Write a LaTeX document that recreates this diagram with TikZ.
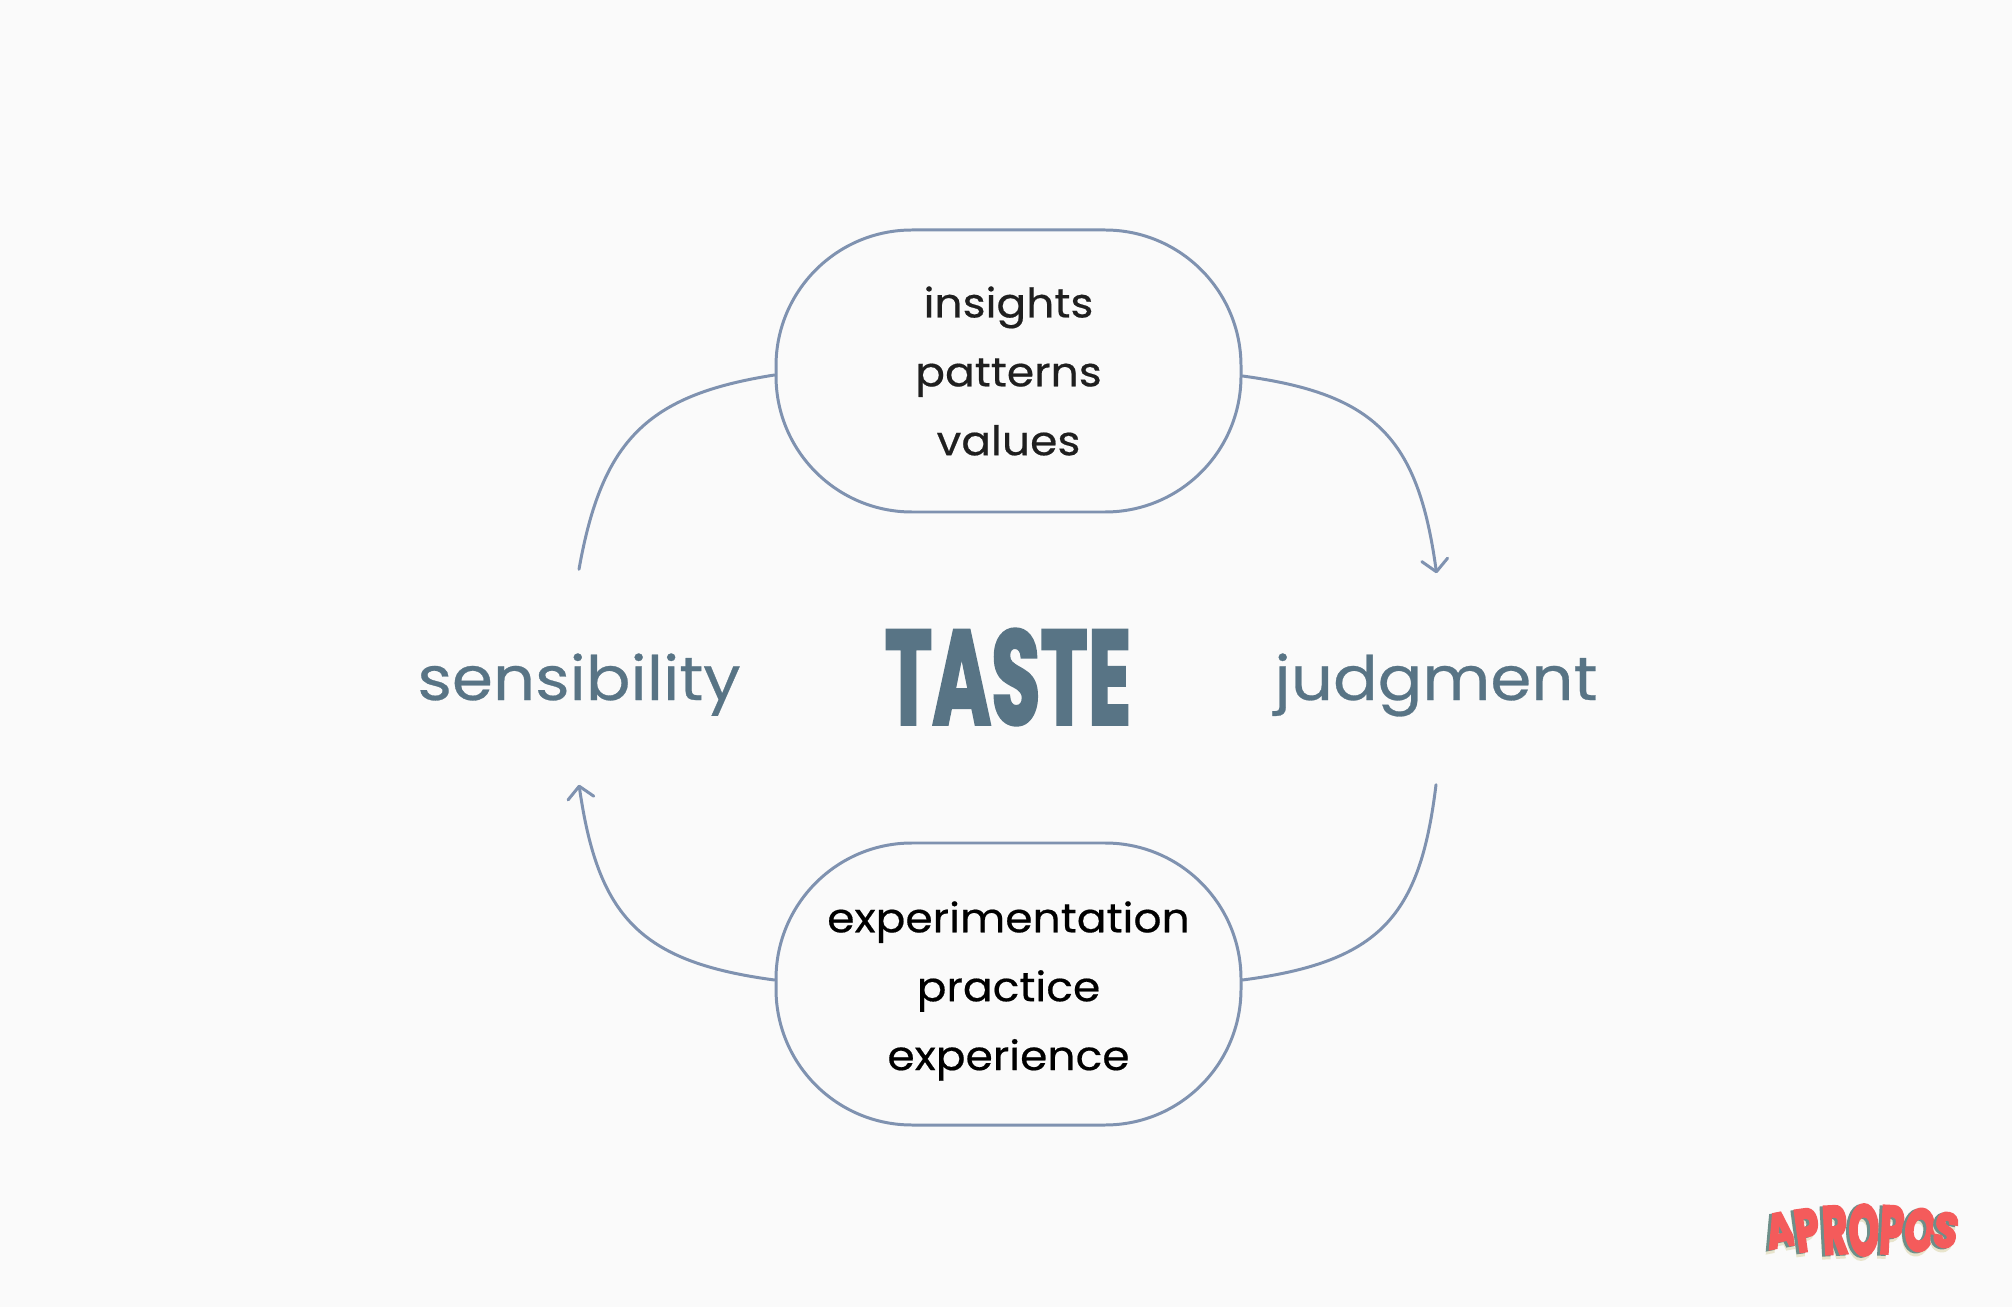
\documentclass[tikz,border=0pt]{standalone}
\usepackage{fontspec}
\setmainfont[FakeStretch=1.08, FakeBold=0.45]{Poppins}
\newfontfamily\tastefont[BoldFeatures={FakeBold=2.5}]{Poppins}
\newfontfamily\logofont[BoldFeatures={FakeBold=5}]{Poppins}
\usetikzlibrary{arrows.meta}
\definecolor{paper}{HTML}{FAFAFA}
\definecolor{wire}{HTML}{7F92B0}
\definecolor{slate}{HTML}{587485}
\definecolor{logored}{HTML}{F45B5B}
\definecolor{logoteal}{HTML}{6D8F8A}
\definecolor{logosand}{HTML}{E8E4CC}
\newcommand{\logoletter}[2]{\logofont\bfseries\fontsize{19}{19}\selectfont\scalebox{0.58}[#2]{#1}}
\newcommand{\sideword}[1]{\raisebox{-0.23cm}[0pt][0pt]{#1}}
\tikzset{
	pill/.style = {draw = wire, line width = 0.85pt, rounded corners = 1.36cm, minimum width = 4.65cm, minimum height = 2.82cm, align = center, font = \fontsize{11.6}{19.6}\selectfont},
	side/.style = {text = slate, minimum height = 2.14cm, inner sep = 0pt, font = \fontsize{17.4}{23}\selectfont},
	flow/.style = {draw = wire, line width = 0.85pt, line cap = round},
	tip/.style = {-{Straight Barb[length = 1.2mm, width = 2.6mm, round]}}
}

\begin{document}
\begin{tikzpicture}
	\useasboundingbox[fill = paper] (0,0) rectangle (20.12,13.07);
	\node[pill, text = black!88] (thinking) at (10.085,9.36) {insights\\patterns\\values};
	\node[pill, text = black] (doing) at (10.085,3.23) {\rule{0pt}{0.45cm}experimentation\\practice\\experience};
	\node[side] (sensibility) at (5.79,6.30) {\sideword{sensibility}};
	\node[side] (judgment) at (14.36,6.30) {\sideword{judgment}};
	\node[text = slate, inner sep = 0pt] (taste) at (10.08,6.30) {\tastefont\bfseries\fontsize{38}{38}\selectfont\scalebox{0.60}[1]{TASTE}};
	\draw[flow] (sensibility.north) .. controls (6.02,8.67) and (6.47,9.12) .. ([yshift = -0.04cm]thinking.west);
	\draw[flow, tip, shorten >= -0.04cm] ([yshift = -0.05cm]thinking.east) .. controls (13.75,9.13) and (14.18,8.70) .. (judgment.north);
	\draw[flow] ([yshift = 0.04cm]doing.east) .. controls (13.80,3.45) and (14.20,3.90) .. (judgment.south);
	\draw[flow, tip] ([yshift = 0.04cm]doing.west) .. controls (6.40,3.45) and (5.98,3.90) .. (sensibility.south);
	\foreach \i/\letter/\x/\r/\s in {1/A/17.80/11/0.72, 2/P/18.07/8/0.88, 3/R/18.35/3/1.00, 4/O/18.64/0/1.05, 5/P/18.92/-3/1.00, 6/O/19.20/-7/0.88, 7/S/19.46/-11/0.72} {
		\node[rotate = \r, text = logosand, inner sep = 0pt] (sand\i) at (\x-0.03,0.73) {\logoletter{\letter}{\s}};
		\node[rotate = \r, text = logoteal, inner sep = 0pt] (shade\i) at (\x-0.03,0.76) {\logoletter{\letter}{\s}};
		\node[rotate = \r, text = logored, inner sep = 0pt] (logo\i) at (\x,0.77) {\logoletter{\letter}{\s}};
	}
\end{tikzpicture}
\end{document}
